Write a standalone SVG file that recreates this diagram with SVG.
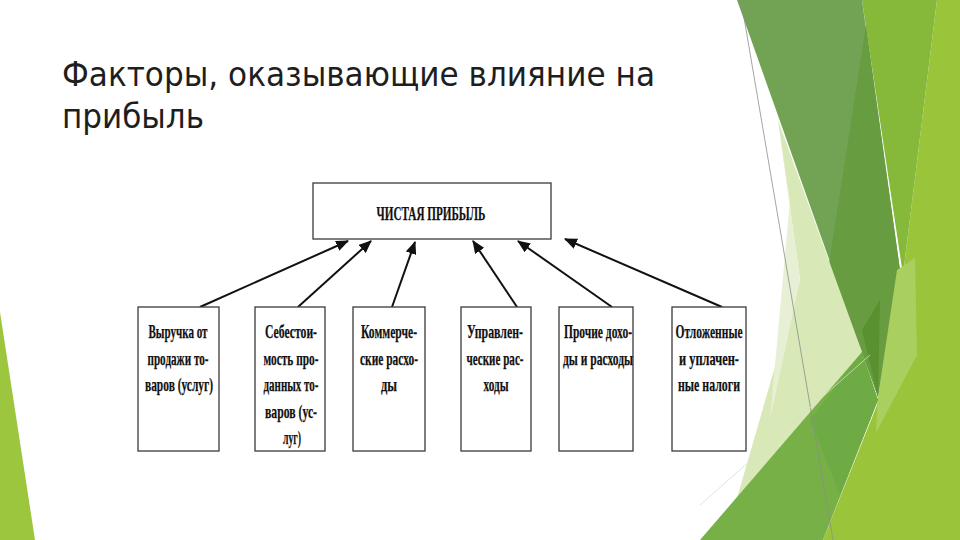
<svg xmlns="http://www.w3.org/2000/svg" width="960" height="540" viewBox="0 0 960 540">
<style>
.bx{fill:#fff;stroke:#3a3a3a;stroke-width:1.3}
.t{font-family:"Liberation Serif",serif;font-weight:bold;font-size:19.5px;fill:#111;stroke:#111;stroke-width:0.25;text-anchor:middle}
.c{stroke:#111;stroke-width:2;fill:none;marker-end:url(#ah)}
.title{font-family:"DejaVu Sans",sans-serif;font-size:34px;fill:#1e1e1e}
</style>
<defs>
<marker id="ah" viewBox="0 0 12 10" refX="11" refY="5" markerWidth="6.5" markerHeight="5.5" markerUnits="strokeWidth" orient="auto">
<path d="M0,0 L12,5 L0,10 z" fill="#111"/>
</marker>
</defs>
<rect width="960" height="540" fill="#fff"/>
<g id="background">
<polygon points="0,312 35,540 0,540" fill="#9cc63e"/>
<polygon points="937,0 960,0 960,540 823,540 877,405 903,275" fill="#9ac53b"/>
<polygon points="862,0 937,0 903,275" fill="#86b83a"/>
<polygon points="737,0 862,0 900,270 878,397 862,352" fill="#72a354"/>
<polygon points="866,25 900,270 878,397 862,352 828,270" fill="#689c40"/>
<polygon points="862,330 880,300 878,397" fill="#5a912f"/>
<polygon points="897,270 915,258 917,355 876,433 878,397" fill="#a9cf5f"/>
<polygon points="778,120 862,352 733,512 800,280" fill="#d8e8b7"/>
<polygon points="778,120 800,280 770,420 790,200" fill="#e7f0d4"/>
<polygon points="862,352 878,400 823,540 700,540" fill="#76b046"/>
<polygon points="862,352 878,400 840,495 810,420" fill="#6fab45"/>
<line x1="741" y1="0" x2="833" y2="540" stroke="#8a8f86" stroke-width="0.8"/>
<line x1="700" y1="505" x2="870" y2="355" stroke="#d6e0c8" stroke-width="0.8"/>
</g>
<g id="title">
<text class="title" x="62" y="86" textLength="593" lengthAdjust="spacingAndGlyphs">Факторы, оказывающие влияние на</text>
<text class="title" x="62" y="128" textLength="142" lengthAdjust="spacingAndGlyphs">прибыль</text>
</g>
<g id="connectors">
<line class="c" x1="200" y1="307" x2="348" y2="241"/>
<line class="c" x1="298" y1="307" x2="371" y2="241"/>
<line class="c" x1="392" y1="307" x2="415" y2="242"/>
<line class="c" x1="517" y1="307" x2="473" y2="241"/>
<line class="c" x1="612" y1="307" x2="518" y2="241"/>
<line class="c" x1="722" y1="307" x2="565" y2="239"/>
</g>
<g id="net-profit">
<rect class="bx" x="313" y="183" width="238" height="56"/>
<text class="t" x="431" y="220" textLength="109" lengthAdjust="spacingAndGlyphs">ЧИСТАЯ ПРИБЫЛЬ</text>
</g>
<g id="revenue">
<rect class="bx" x="138" y="307" width="81" height="144"/>
<text class="t" x="178" y="338" textLength="59" lengthAdjust="spacingAndGlyphs">Выручка от</text>
<text class="t" x="178" y="364.5" textLength="61" lengthAdjust="spacingAndGlyphs">продажи то-</text>
<text class="t" x="179" y="391" textLength="68" lengthAdjust="spacingAndGlyphs">варов (услуг)</text>
</g>
<g id="cost">
<rect class="bx" x="255" y="307" width="70" height="144"/>
<text class="t" x="291" y="338" textLength="52" lengthAdjust="spacingAndGlyphs">Себестои-</text>
<text class="t" x="291" y="364.5" textLength="55" lengthAdjust="spacingAndGlyphs">мость про-</text>
<text class="t" x="291" y="391" textLength="55" lengthAdjust="spacingAndGlyphs">данных то-</text>
<text class="t" x="291" y="417.5" textLength="52" lengthAdjust="spacingAndGlyphs">варов (ус-</text>
<text class="t" x="292" y="444" textLength="18" lengthAdjust="spacingAndGlyphs">луг)</text>
</g>
<g id="commercial">
<rect class="bx" x="353" y="307" width="72" height="144"/>
<text class="t" x="389" y="338" textLength="56" lengthAdjust="spacingAndGlyphs">Коммерче-</text>
<text class="t" x="389" y="364.5" textLength="58" lengthAdjust="spacingAndGlyphs">ские расхо-</text>
<text class="t" x="389" y="391" textLength="16" lengthAdjust="spacingAndGlyphs">ды</text>
</g>
<g id="management">
<rect class="bx" x="461" y="307" width="70" height="144"/>
<text class="t" x="495" y="338" textLength="56" lengthAdjust="spacingAndGlyphs">Управлен-</text>
<text class="t" x="495" y="364.5" textLength="57" lengthAdjust="spacingAndGlyphs">ческие рас-</text>
<text class="t" x="496" y="391" textLength="25" lengthAdjust="spacingAndGlyphs">ходы</text>
</g>
<g id="other">
<rect class="bx" x="559" y="307" width="74" height="144"/>
<text class="t" x="598" y="338" textLength="68" lengthAdjust="spacingAndGlyphs">Прочие дохо-</text>
<text class="t" x="598" y="364.5" textLength="70" lengthAdjust="spacingAndGlyphs">ды и расходы</text>
</g>
<g id="taxes">
<rect class="bx" x="672" y="307" width="74" height="144"/>
<text class="t" x="709" y="338" textLength="67" lengthAdjust="spacingAndGlyphs">Отложенные</text>
<text class="t" x="709" y="364.5" textLength="60" lengthAdjust="spacingAndGlyphs">и уплачен-</text>
<text class="t" x="709" y="391" textLength="62" lengthAdjust="spacingAndGlyphs">ные налоги</text>
</g>
</svg>
